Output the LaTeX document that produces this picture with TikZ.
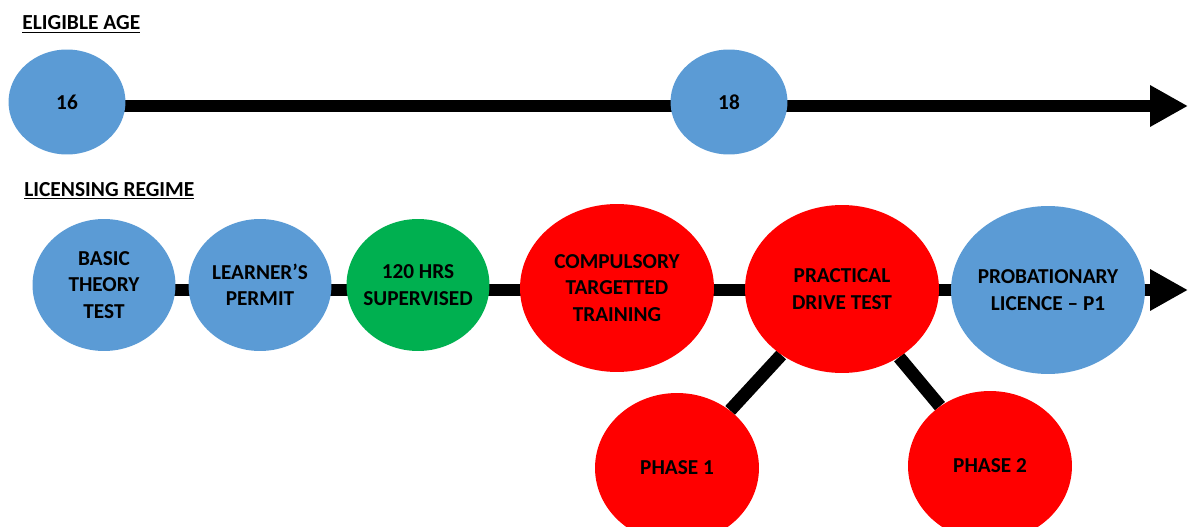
\documentclass[tikz,border=0pt]{standalone}
\usepackage{fontspec}
\setmainfont{Carlito}
\usetikzlibrary{shapes.geometric,arrows.meta,backgrounds}

\definecolor{stageblue}{HTML}{5B9BD5}
\definecolor{stagegreen}{HTML}{00B050}
\definecolor{stagered}{HTML}{FF0000}

\tikzset{
	stage/.style={shape=ellipse, inner xsep=-6pt, inner ysep=0pt, align=center, font=\bfseries\fontsize{12.1}{15}\selectfont},
	agebox/.style={stage, fill=stageblue, minimum width=2.34cm, minimum height=2.10cm},
	smallbox/.style={stage, minimum width=2.86cm, minimum height=2.64cm},
	bigbox/.style={stage, minimum width=3.88cm, minimum height=3.36cm},
	phasebox/.style={stage, fill=stagered, minimum width=3.28cm, minimum height=3.00cm},
	heading/.style={inner sep=0pt, anchor=base west, font=\bfseries\fontsize{12.2}{14}\selectfont},
	bar/.style={line width=0.26cm},
	timeline/.style={bar, -{Triangle[length=0.76cm, width=0.78cm]}}
}

\begin{document}
\begin{tikzpicture}[x=0.02cm, y=-0.02cm]
	
	\useasboundingbox (0,0) rectangle (1188,527);
	
	\node[heading] (agetitle) at (22,30)  {\underline{ELIGIBLE AGE}};
	\node[heading] (regtitle) at (24,196) {\underline{LICENSING REGIME}};
	
	\node[agebox] (n16) at (67,102)  {16};
	\node[agebox] (n18) at (729,102) {18};
	\coordinate (agetip) at (1188,106);
	
	\node[smallbox, fill=stageblue]  (basic)   at (104,285) {BASIC\\THEORY\\TEST};
	\node[smallbox, fill=stageblue]  (learner) at (260,285) {LEARNER’S\\PERMIT};
	\node[smallbox, fill=stagegreen] (hours)   at (418,285) {120 HRS\\SUPERVISED};
	\node[bigbox, fill=stagered]     (ctt)     at (617,288) {COMPULSORY\\TARGETTED\\TRAINING};
	\node[bigbox, fill=stagered]     (drive)   at (842,289) {PRACTICAL\\DRIVE TEST};
	\node[bigbox, fill=stageblue]    (prob)    at (1048,290) {PROBATIONARY\\LICENCE – P1};
	\node[phasebox] (phase1) at (677,468) {PHASE 1};
	\node[phasebox] (phase2) at (990,466) {PHASE 2};
	\coordinate (regtip) at (1188,290);
	
	\begin{pgfonlayer}{background}
	\draw[timeline] (n16 |- agetip) -- (agetip);
	\draw[timeline] (basic |- regtip) -- (regtip);
	\path[bar] (drive) edge (phase1);
	\path[bar] (drive) edge (phase2);
	\end{pgfonlayer}
	
\end{tikzpicture}
\end{document}
